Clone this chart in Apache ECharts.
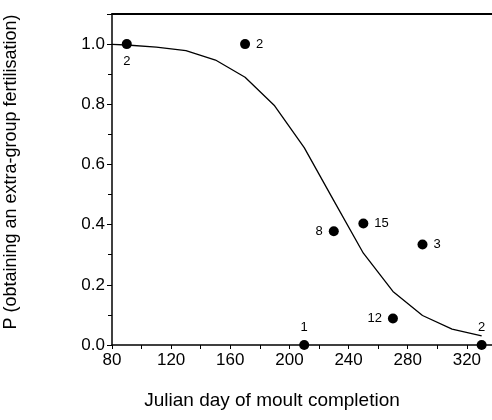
<!DOCTYPE html>
<html>
<head>
<meta charset="utf-8">
<script src="https://cdn.jsdelivr.net/npm/echarts@6/dist/echarts.min.js"></script>
<style>
html,body{margin:0;padding:0;background:#fff;}
#chart{width:492px;height:420px;}
</style>
</head>
<body>
<div id="chart"></div>
<script>
// Observed data points
const pointDays = [90, 170, 210, 230, 250, 270, 290, 330];
const pointP = [1.0, 1.0, 0.0, 0.378, 0.404, 0.088, 0.334, 0.0];
const sampleSizes = ["2", "2", "1", "8", "15", "12", "3", "2"];
// Fitted curve
const curveDays = [80, 90, 110, 130, 150, 170, 190, 210, 230, 250, 270, 290, 310, 330];
const curveP = [0.999, 0.997, 0.99, 0.978, 0.947, 0.89, 0.795, 0.656, 0.48, 0.305, 0.178, 0.098, 0.053, 0.03];
// Axis tick labels
const xTicks = [80, 120, 160, 200, 240, 280, 320];
const yTicks = [0.0, 0.2, 0.4, 0.6, 0.8, 1.0];

const labelSides = ["bottom", "right", "top", "left", "right", "left", "right", "top"];

const chart = echarts.init(document.getElementById('chart'), null, {renderer: 'canvas'});
const font = 'Liberation Sans, Arial, Helvetica, sans-serif';

const option = {
  animation: false,
  backgroundColor: '#fff',
  grid: {left: 112, right: 0, top: 14, bottom: 75, containLabel: false, outerBoundsMode: 'none'},
  xAxis: [{
    type: 'value', min: xTicks[0], max: 337, interval: 40,
    name: 'Julian day of moult completion', nameLocation: 'middle', nameGap: 46,
    nameTextStyle: {fontFamily: font, fontSize: 19, color: '#000', padding: [0, 60, 0, 0]},
    axisLine: {show: true, onZero: false, lineStyle: {color: '#000', width: 1.5}},
    axisTick: {show: true, length: 4, inside: false, lineStyle: {color: '#000', width: 1}},
    minorTick: {show: true, splitNumber: 2, length: 4, lineStyle: {color: '#000', width: 1}},
    axisLabel: {fontFamily: font, fontSize: 17, color: '#000', margin: 7, showMaxLabel: false,
      formatter: v => xTicks.indexOf(v) >= 0 ? String(v) : ''},
    splitLine: {show: false}
  }, {
    type: 'value', position: 'top', min: xTicks[0], max: 337,
    axisLine: {show: true, onZero: false, lineStyle: {color: '#000', width: 1.8}},
    axisTick: {show: false}, axisLabel: {show: false}, splitLine: {show: false}
  }],
  yAxis: {
    type: 'value', min: 0, max: 1.1, interval: 0.2,
    name: 'P (obtaining an extra-group fertilisation)', nameLocation: 'middle', nameGap: 92,
    nameTextStyle: {fontFamily: font, fontSize: 18, color: '#000', padding: [0, 0, 0, 15]},
    axisLine: {show: true, onZero: false, lineStyle: {color: '#000', width: 1.5}},
    axisTick: {show: true, length: 5, lineStyle: {color: '#000', width: 1}},
    minorTick: {show: true, splitNumber: 2, length: 4, lineStyle: {color: '#000', width: 1}},
    axisLabel: {fontFamily: font, fontSize: 17, color: '#000', margin: 7, showMaxLabel: false,
      formatter: v => yTicks.some(t => Math.abs(t - v) < 1e-9) ? v.toFixed(1) : ''},
    splitLine: {show: false}
  },
  series: [{
    type: 'line',
    data: curveDays.map((d, i) => [d, curveP[i]]),
    symbol: 'none',
    lineStyle: {color: '#000', width: 1.3},
    z: 2
  }, {
    type: 'scatter',
    data: pointDays.map((d, i) => ({
      value: [d, pointP[i]],
      label: {show: true, formatter: sampleSizes[i], position: labelSides[i]}
    })),
    symbol: 'circle', symbolSize: 10,
    itemStyle: {color: '#000', opacity: 1},
    label: {fontFamily: font, fontSize: 13, color: '#000', distance: 6},
    clip: false,
    z: 3
  }]
};
chart.setOption(option);
</script>
</body>
</html>
